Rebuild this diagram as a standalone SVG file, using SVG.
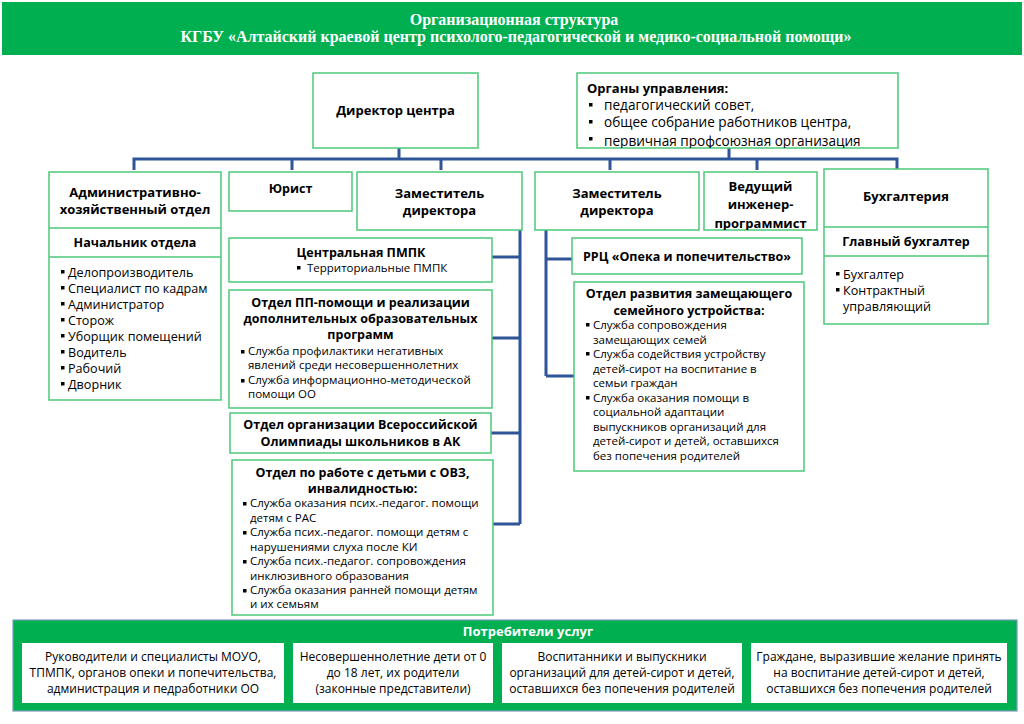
<svg xmlns="http://www.w3.org/2000/svg" xmlns:xlink="http://www.w3.org/1999/xlink" width="1024" height="724" viewBox="0 0 1024 724">
<style>
.box{fill:#fff;stroke:#4CC97A;stroke-width:1.5}
.t{font-family:"Open Sans","Noto Sans",sans-serif;fill:#000}
.b{font-weight:bold;font-size:13px}
.r{font-size:12.6px}
.s{font-size:11.5px}
.c{text-anchor:middle}
.w{fill:#fff}
.con{fill:none;stroke:#2E5597;stroke-width:3}
</style>
<defs>
<rect id="bl" width="3.5" height="3.5" fill="#000"/>
<clipPath id="cOrg"><rect x="577" y="73" width="321" height="75"/></clipPath>
<clipPath id="cEng"><rect x="704" y="172" width="113" height="58"/></clipPath>
</defs>
<rect width="1024" height="724" fill="#fff"/>
<g id="header">
<rect x="2" y="2" width="1020" height="53" fill="#00B050"/>
<text x="514" y="25" text-anchor="middle" font-family="Liberation Serif,serif" font-weight="bold" font-size="16" fill="#fff">Организационная структура</text>
<text x="516" y="42" text-anchor="middle" font-family="Liberation Serif,serif" font-weight="bold" font-size="16" fill="#fff">КГБУ «Алтайский краевой центр психолого-педагогической и медико-социальной помощи»</text>
</g>
<g id="connectors">
<path class="con" d="M399 148V159M729 148V159M134 170V159H897V170M292 159V170M441 159V170M610 159V170M757 159V170"/>
<path class="con" d="M520 230V524M492 257H520M492 338H520M491 433H520M493 524H520"/>
<path class="con" d="M546 230V376M546 259H573M546 376H575"/>
</g>
<g id="director">
<rect class="box" x="313" y="73" width="165" height="75"/>
<text class="t b c" x="395.5" y="115">Директор центра</text>
</g>
<g id="organy">
<rect class="box" x="577" y="73" width="321" height="75"/>
<g clip-path="url(#cOrg)">
<text class="t b" x="587" y="93">Органы управления:</text>
<g class="t" style="font-size:13.6px">
<use href="#bl" x="589" y="103"/><text x="604" y="110">педагогический совет,</text>
<use href="#bl" x="589" y="120"/><text x="604" y="127">общее собрание работников центра,</text>
<use href="#bl" x="589" y="137"/><text x="604" y="146">первичная профсоюзная организация</text>
</g>
</g>
</g>
<g id="admin">
<rect class="box" x="49" y="172" width="172" height="228"/>
<line x1="49" y1="228" x2="221" y2="228" stroke="#4CC97A" stroke-width="1.5"/>
<line x1="49" y1="257" x2="221" y2="257" stroke="#4CC97A" stroke-width="1.5"/>
<text class="t b c" x="135" y="197">Административно-</text>
<text class="t b c" x="135" y="214">хозяйственный отдел</text>
<text class="t b c" x="135" y="247" style="font-size:12.5px">Начальник отдела</text>
<g class="t r">
<use href="#bl" x="61" y="270"/><text x="68" y="277">Делопроизводитель</text>
<use href="#bl" x="61" y="286"/><text x="68" y="293">Специалист по кадрам</text>
<use href="#bl" x="61" y="302"/><text x="68" y="309">Администратор</text>
<use href="#bl" x="61" y="318"/><text x="68" y="325">Сторож</text>
<use href="#bl" x="61" y="334"/><text x="68" y="341">Уборщик помещений</text>
<use href="#bl" x="61" y="350"/><text x="68" y="357">Водитель</text>
<use href="#bl" x="61" y="366"/><text x="68" y="373">Рабочий</text>
<use href="#bl" x="61" y="382"/><text x="68" y="389">Дворник</text>
</g>
</g>
<g id="jurist">
<rect class="box" x="229" y="172" width="123" height="39"/>
<text class="t b c" x="290.5" y="193" style="font-size:12.5px">Юрист</text>
</g>
<g id="zam1">
<rect class="box" x="357" y="172" width="165" height="58"/>
<text class="t b c" x="439.5" y="198">Заместитель</text>
<text class="t b c" x="439.5" y="215">директора</text>
</g>
<g id="zam2">
<rect class="box" x="535" y="172" width="164" height="58"/>
<text class="t b c" x="617" y="198">Заместитель</text>
<text class="t b c" x="617" y="215">директора</text>
</g>
<g id="engineer">
<rect class="box" x="704" y="172" width="113" height="58"/>
<g clip-path="url(#cEng)">
<text class="t b c" x="760.5" y="191">Ведущий</text>
<text class="t b c" x="760.5" y="209">инженер-</text>
<text class="t b c" x="760.5" y="228">программист</text>
</g>
</g>
<g id="buh">
<rect class="box" x="824" y="169" width="164" height="155"/>
<line x1="824" y1="227" x2="988" y2="227" stroke="#4CC97A" stroke-width="1.5"/>
<line x1="824" y1="256" x2="988" y2="256" stroke="#4CC97A" stroke-width="1.5"/>
<text class="t b c" x="906" y="201">Бухгалтерия</text>
<text class="t b c" x="906" y="246" style="font-size:12.5px">Главный бухгалтер</text>
<g class="t r">
<use href="#bl" x="836" y="272"/><text x="843" y="279">Бухгалтер</text>
<use href="#bl" x="836" y="288"/><text x="843" y="295">Контрактный</text>
<text x="843" y="311">управляющий</text>
</g>
</g>
<g id="pmpk">
<rect class="box" x="229" y="238" width="263" height="44"/>
<text class="t b c" x="361" y="257" style="font-size:12.5px">Центральная ПМПК</text>
<use href="#bl" x="297" y="266"/><text class="t s" x="307" y="272">Территориальные ПМПК</text>
</g>
<g id="otdel-pp">
<rect class="box" x="229" y="290" width="263" height="118"/>
<text class="t b c" x="360.5" y="307" style="font-size:12.5px">Отдел ПП-помощи и реализации</text>
<text class="t b c" x="360.5" y="323" style="font-size:12.5px">дополнительных образовательных</text>
<text class="t b c" x="360.5" y="339" style="font-size:12.5px">программ</text>
<g class="t s">
<use href="#bl" x="241" y="350"/><text x="248" y="355">Служба профилактики негативных</text>
<text x="248" y="369">явлений среди несовершеннолетних</text>
<use href="#bl" x="241" y="379"/><text x="248" y="384">Служба информационно-методической</text>
<text x="248" y="398">помощи ОО</text>
</g>
</g>
<g id="olymp">
<rect class="box" x="230" y="413" width="261" height="40"/>
<text class="t b c" x="360.5" y="429" style="font-size:12.5px">Отдел организации Всероссийской</text>
<text class="t b c" x="360.5" y="446" style="font-size:12.5px">Олимпиады школьников в АК</text>
</g>
<g id="ovz">
<rect class="box" x="232" y="460" width="261" height="155"/>
<text class="t b c" x="362.5" y="477" style="font-size:12.5px">Отдел по работе с детьми с ОВЗ,</text>
<text class="t b c" x="362.5" y="493" style="font-size:12.5px">инвалидностью:</text>
<g class="t s">
<use href="#bl" x="243" y="502"/><text x="250" y="507">Служба оказания псих.-педагог. помощи</text>
<text x="250" y="522">детям с РАС</text>
<use href="#bl" x="243" y="531"/><text x="250" y="536">Служба псих.-педагог. помощи детям с</text>
<text x="250" y="551">нарушениями слуха после КИ</text>
<use href="#bl" x="243" y="560"/><text x="250" y="565">Служба псих.-педагог. сопровождения</text>
<text x="250" y="580">инклюзивного образования</text>
<use href="#bl" x="243" y="589"/><text x="250" y="594">Служба оказания ранней помощи детям</text>
<text x="250" y="608">и их семьям</text>
</g>
</g>
<g id="rrc">
<rect class="box" x="572" y="238" width="230" height="36"/>
<text class="t b c" x="687" y="261" style="font-size:12.5px">РРЦ «Опека и попечительство»</text>
</g>
<g id="otdel-razv">
<rect class="box" x="574" y="282" width="230" height="189"/>
<text class="t b c" x="689" y="298" style="font-size:12.5px">Отдел развития замещающего</text>
<text class="t b c" x="689" y="315" style="font-size:12.5px">семейного устройства:</text>
<g class="t s">
<use href="#bl" x="586" y="323"/><text x="593" y="329">Служба сопровождения</text>
<text x="593" y="344">замещающих семей</text>
<use href="#bl" x="586" y="352"/><text x="593" y="358">Служба содействия устройству</text>
<text x="593" y="373">детей-сирот на воспитание в</text>
<text x="593" y="387">семьи граждан</text>
<use href="#bl" x="586" y="396"/><text x="593" y="402">Служба оказания помощи в</text>
<text x="593" y="416">социальной адаптации</text>
<text x="593" y="431">выпускников организаций для</text>
<text x="593" y="445">детей-сирот и детей, оставшихся</text>
<text x="593" y="460">без попечения родителей</text>
</g>
</g>
<g id="consumers">
<rect x="13" y="620" width="1004" height="91" fill="#00B050" stroke="#7A9CB8" stroke-width="1.2"/>
<text class="t b c w" x="528" y="636" style="font-size:13px">Потребители услуг</text>
<rect x="22" y="643" width="262" height="60" fill="#fff"/>
<rect x="293" y="643" width="200" height="60" fill="#fff"/>
<rect x="502" y="643" width="240" height="60" fill="#fff"/>
<rect x="751" y="643" width="256" height="60" fill="#fff"/>
<g class="t c" style="font-size:12px">
<text x="153" y="661">Руководители и специалисты МОУО,</text>
<text x="153" y="677">ТПМПК, органов опеки и попечительства,</text>
<text x="153" y="693">администрация и педработники ОО</text>
<text x="393" y="661">Несовершеннолетние дети от 0</text>
<text x="393" y="677">до 18 лет, их родители</text>
<text x="393" y="693">(законные представители)</text>
<text x="622" y="661">Воспитанники и выпускники</text>
<text x="622" y="677">организаций для детей-сирот и детей,</text>
<text x="622" y="693">оставшихся без попечения родителей</text>
<text x="879" y="661">Граждане, выразившие желание принять</text>
<text x="879" y="677">на воспитание детей-сирот и детей,</text>
<text x="879" y="693">оставшихся без попечения родителей</text>
</g>
</g>
</svg>
